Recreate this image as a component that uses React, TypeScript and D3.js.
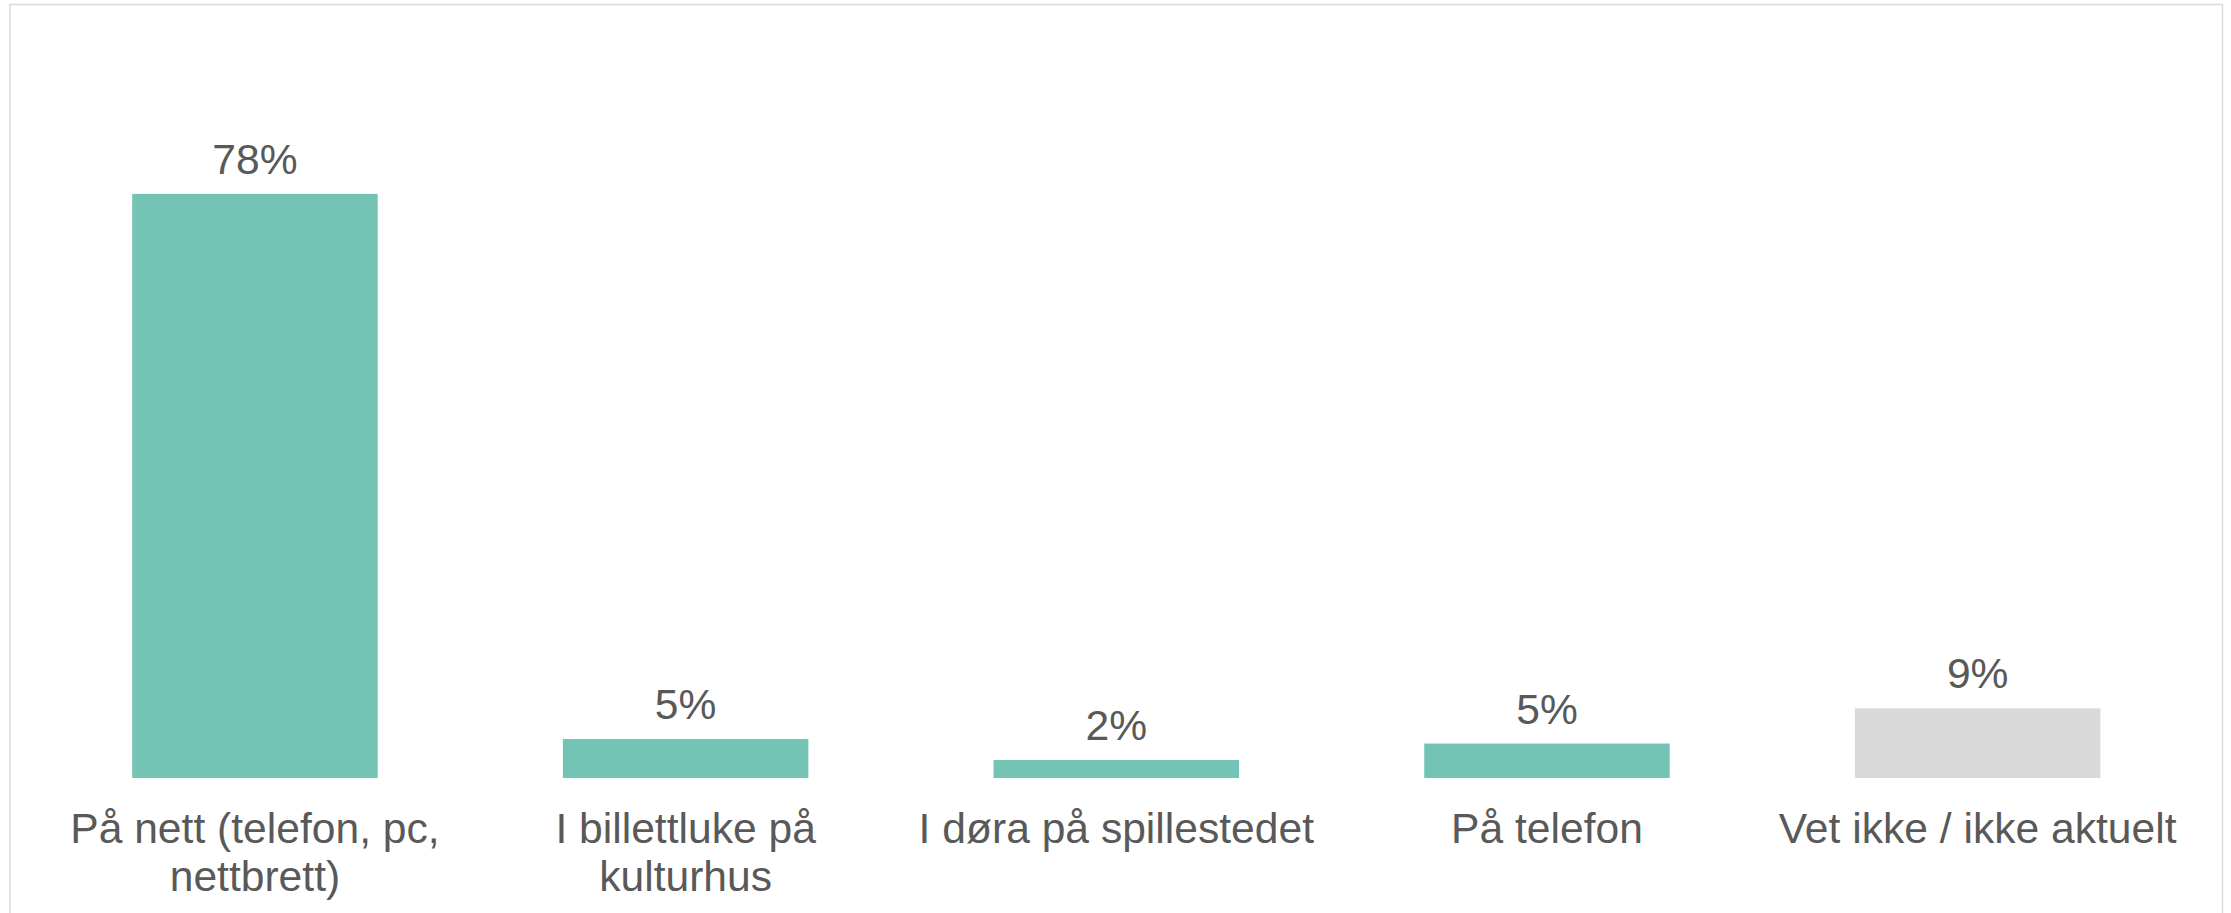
import React from "react";
import * as d3 from "d3";

const categories = [
  "På nett (telefon, pc, nettbrett)",
  "I billettluke på kulturhus",
  "I døra på spillestedet",
  "På telefon",
  "Vet ikke / ikke aktuelt",
];
const values = [78, 5.2, 2.4, 4.6, 9.3];
const barColors = ["#73c4b4", "#73c4b4", "#73c4b4", "#73c4b4", "#d9d9d9"];

const W = 2231;
const H = 913;
const FONT = "'Liberation Sans', Arial, sans-serif";
const FONT_SIZE = 42.6;

// simple word wrap using canvas measurement
function wrap(text: string, maxWidth: number): string[] {
  const ctx = document.createElement("canvas").getContext("2d");
  if (!ctx) return [text];
  ctx.font = `${FONT_SIZE}px ${FONT}`;
  const words = text.split(" ");
  const lines: string[] = [];
  let line = "";
  words.forEach((w) => {
    const test = line ? line + " " + w : w;
    if (line && ctx.measureText(test).width > maxWidth) {
      lines.push(line);
      line = w;
    } else {
      line = test;
    }
  });
  if (line) lines.push(line);
  return lines;
}

export default function App() {
  const x = d3
    .scaleBand<string>()
    .domain(categories)
    .range([39.6, 2193])
    .paddingInner(0.43)
    .paddingOuter(0.215);

  const y = d3.scaleLinear().domain([0, 90]).range([778, 104]);

  return (
    <svg
      width={W}
      height={H}
      style={{ position: "absolute", left: 0, top: 0, display: "block" }}
      fontFamily={FONT}
    >
      <rect x={0} y={0} width={W} height={H} fill="#fff" />
      <rect
        x={10}
        y={4.5}
        width={2212.5}
        height={H + 20}
        fill="none"
        stroke="#d9d9d9"
        strokeWidth={1.5}
      />
      {categories.map((c, i) => {
        const bx = x(c) ?? 0;
        const cx = bx + x.bandwidth() / 2;
        const top = y(values[i]);
        const lines = wrap(c, 430);
        return (
          <g key={c}>
            <rect
              x={bx}
              y={top}
              width={x.bandwidth()}
              height={y(0) - top}
              fill={barColors[i]}
            />
            <text
              x={cx}
              y={top - 20}
              textAnchor="middle"
              fontSize={FONT_SIZE}
              fill="#595959"
            >
              {Math.round(values[i]) + "%"}
            </text>
            <text
              x={cx}
              y={843}
              textAnchor="middle"
              fontSize={FONT_SIZE}
              fill="#595959"
            >
              {lines.map((l, j) => (
                <tspan key={j} x={cx} dy={j === 0 ? 0 : 48}>
                  {l}
                </tspan>
              ))}
            </text>
          </g>
        );
      })}
    </svg>
  );
}
